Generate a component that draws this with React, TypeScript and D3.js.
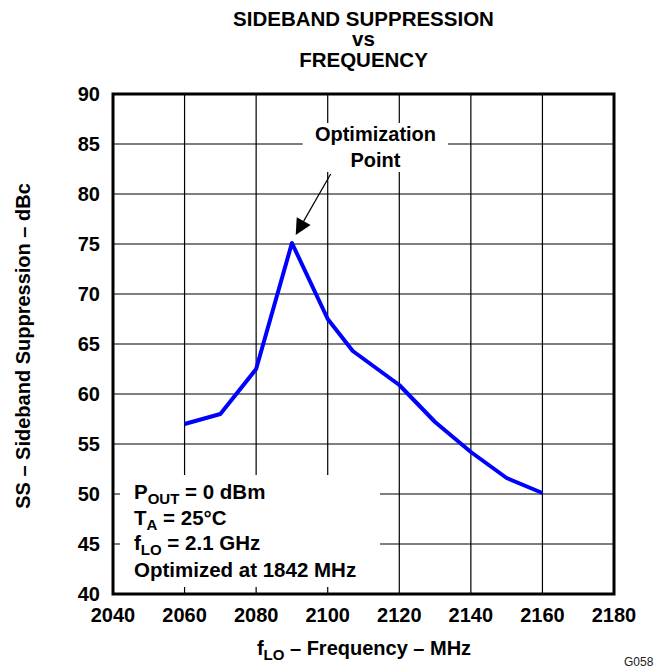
import React from "react";
import * as d3 from "d3";

const freqs = [2060, 2070, 2080, 2090, 2100, 2107, 2120, 2130, 2140, 2150, 2160];
const suppression = [57.0, 58.0, 62.5, 75.1, 67.5, 64.3, 60.9, 57.2, 54.2, 51.6, 50.1];
const xTicks = [2040, 2060, 2080, 2100, 2120, 2140, 2160, 2180];
const yTicks = [40, 45, 50, 55, 60, 65, 70, 75, 80, 85, 90];
const titleLines = ["SIDEBAND SUPPRESSION", "vs", "FREQUENCY"];

const FONT = "Arial, 'Liberation Sans', Helvetica, sans-serif";

export default function App() {
  const left = 113, right = 614, top = 94, bottom = 594;
  const x = d3.scaleLinear().domain([2040, 2180]).range([left, right]);
  const y = d3.scaleLinear().domain([40, 90]).range([bottom, top]);
  const line = d3.line<number>().x((_, i) => x(freqs[i])).y((d) => y(d));
  const path = line(suppression) || "";

  // arrow
  const ax0 = 330.7, ay0 = 174, tipX = 295.7, tipY = 235;
  const dx = tipX - ax0, dy = tipY - ay0;
  const len = Math.hypot(dx, dy);
  const ux = dx / len, uy = dy / len;
  const headL = 16, headW = 8;
  const bx = tipX - ux * headL, by = tipY - uy * headL;
  const px = -uy, py = ux;
  const head = `M${tipX},${tipY} L${bx + px * headW},${by + py * headW} L${bx - px * headW},${by - py * headW} Z`;

  const cx = (left + right) / 2;
  const titleY = [25.5, 45.5, 66.5];

  return (
    <svg width={666} height={668} style={{ position: "absolute", left: 0, top: 0, background: "#fff" }} fontFamily={FONT}>
      <rect x={0} y={0} width={666} height={668} fill="#fff" />
      {titleLines.map((t, i) => (
        <text key={t} x={cx} y={titleY[i]} textAnchor="middle" fontSize={20.5} fontWeight="bold">{t}</text>
      ))}
      {/* grid */}
      {xTicks.slice(1, -1).map((t) => (
        <line key={"gx" + t} x1={x(t)} x2={x(t)} y1={top} y2={bottom} stroke="#000" strokeWidth={1.2} />
      ))}
      {yTicks.slice(1, -1).map((t) => (
        <line key={"gy" + t} x1={left} x2={right} y1={y(t)} y2={y(t)} stroke="#000" strokeWidth={1.2} />
      ))}
      {/* white boxes behind labels */}
      <rect x={left + 7} y={475} width={380 - left - 7} height={bottom - 7 - 475} fill="#fff" />
      <rect x={302.7} y={123} width={448 - 302.7} height={172 - 123} fill="#fff" />
      {/* frame */}
      <rect x={left} y={top} width={right - left} height={bottom - top} fill="none" stroke="#000" strokeWidth={3} />
      {/* tick labels */}
      {yTicks.map((t) => (
        <text key={"ty" + t} x={100} y={y(t)} dy="0.36em" textAnchor="end" fontSize={20} fontWeight="bold">{t}</text>
      ))}
      {xTicks.map((t) => (
        <text key={"tx" + t} x={x(t)} y={621.5} textAnchor="middle" fontSize={20} fontWeight="bold">{t}</text>
      ))}
      {/* data line */}
      <path d={path} fill="none" stroke="#0000ff" strokeWidth={4} strokeLinejoin="round" />
      {/* annotation */}
      <text x={375.5} y={141} textAnchor="middle" fontSize={20} fontWeight="bold">Optimization</text>
      <text x={375.5} y={167} textAnchor="middle" fontSize={20} fontWeight="bold">Point</text>
      <line x1={ax0} y1={ay0} x2={bx} y2={by} stroke="#000" strokeWidth={1.2} />
      <path d={head} fill="#000" />
      {/* conditions */}
      <g fontSize={20.5} fontWeight="bold">
        <text x={134} y={498.5}>P<tspan fontSize={15} dy={5}>OUT</tspan><tspan dy={-5}> = 0 dBm</tspan></text>
        <text x={134} y={524.5}>T<tspan fontSize={15} dy={5}>A</tspan><tspan dy={-5}> = 25°C</tspan></text>
        <text x={134} y={550}>f<tspan fontSize={15} dy={5}>LO</tspan><tspan dy={-5}> = 2.1 GHz</tspan></text>
        <text x={134} y={576.5}>Optimized at 1842 MHz</text>
      </g>
      {/* axis titles */}
      <text x={364} y={655} textAnchor="middle" fontSize={20} fontWeight="bold">f<tspan fontSize={15} dy={5}>LO</tspan><tspan dy={-5}> – Frequency – MHz</tspan></text>
      <text transform="translate(30,346) rotate(-90)" textAnchor="middle" fontSize={20} fontWeight="bold">SS – Sideband Suppression – dBc</text>
      <text x={624} y={666} fontSize={12} fill="#222">G058</text>
    </svg>
  );
}
